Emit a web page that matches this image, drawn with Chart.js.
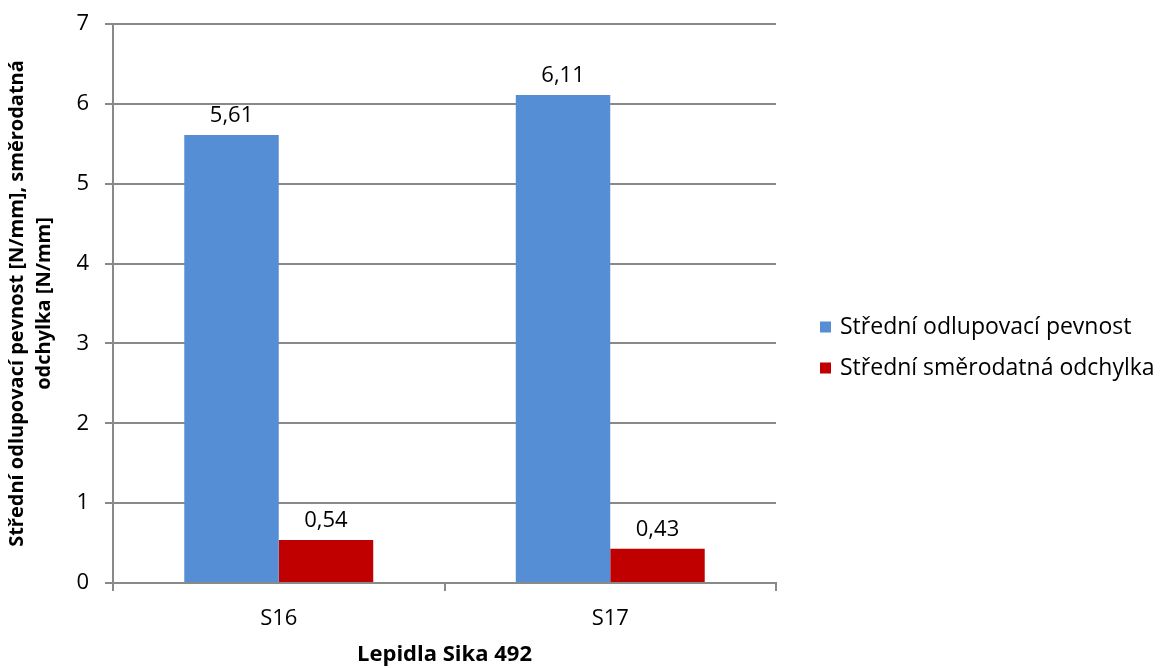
<!DOCTYPE html>
<html>
<head>
<meta charset="utf-8">
<script src="https://cdn.jsdelivr.net/npm/chart.js@4/dist/chart.umd.min.js"></script>
<style>
  html, body { margin: 0; padding: 0; background: #ffffff; }
  #wrap { width: 1162px; height: 668px; }
</style>
</head>
<body>
<div id="wrap"><canvas id="c" width="1162" height="668"></canvas></div>
<script>
// Adhesives tested and their peel strength results
const categories = ['S16', 'S17'];
const meanPeelStrength = [5.61, 6.11];
const meanStdDeviation = [0.54, 0.43];
const seriesNames = ['Střední odlupovací pevnost', 'Střední směrodatná odchylka'];
const yTitle = ['Střední odlupovací pevnost [N/mm], směrodatná', 'odchylka [N/mm]'];
const xTitle = 'Lepidla Sika 492';

const FONT = '"Open Sans", "Liberation Sans", sans-serif';
const SIZE = 22;
const GRID = '#898989';

// Writes each bar's value (decimal comma) just above it
const valueLabels = {
  id: 'valueLabels',
  afterDatasetsDraw(chart) {
    const ctx = chart.ctx;
    ctx.save();
    ctx.font = SIZE + 'px ' + FONT;
    ctx.fillStyle = '#000000';
    ctx.textAlign = 'center';
    ctx.textBaseline = 'alphabetic';
    chart.data.datasets.forEach((ds, di) => {
      chart.getDatasetMeta(di).data.forEach((bar, i) => {
        const txt = ds.data[i].toFixed(2).replace('.', ',');
        ctx.fillText(txt, bar.x, bar.y - 13);
      });
    });
    ctx.restore();
  }
};

// Two-line vertical value-axis title, centred on the plot height
const valueAxisTitle = {
  id: 'valueAxisTitle',
  afterDraw(chart) {
    const ctx = chart.ctx;
    const area = chart.chartArea;
    const midY = (area.top + area.bottom) / 2;
    ctx.save();
    ctx.font = 'bold 20px ' + FONT;
    ctx.fillStyle = '#000000';
    ctx.textAlign = 'center';
    ctx.textBaseline = 'middle';
    yTitle.forEach((line, i) => {
      ctx.save();
      ctx.translate(17 + i * 27, midY);
      ctx.rotate(-Math.PI / 2);
      ctx.fillText(line, 0, 0);
      ctx.restore();
    });
    ctx.restore();
  }
};

// Series key, stacked in the free space right of the plot
const sideLegend = {
  id: 'sideLegend',
  afterDraw(chart) {
    const ctx = chart.ctx;
    const area = chart.chartArea;
    const x0 = area.right + 44;
    const centreY = (area.top + area.bottom) / 2 + 44;
    const step = 41;
    const n = chart.data.datasets.length;
    ctx.save();
    ctx.font = '23px ' + FONT;
    ctx.textBaseline = 'middle';
    ctx.textAlign = 'left';
    chart.data.datasets.forEach((ds, i) => {
      const y = centreY + (i - (n - 1) / 2) * step;
      ctx.fillStyle = ds.backgroundColor;
      ctx.fillRect(x0, y - 5.5, 11, 11);
      ctx.fillStyle = '#000000';
      ctx.fillText(ds.label, x0 + 20, y);
    });
    ctx.restore();
  }
};

new Chart(document.getElementById('c'), {
  type: 'bar',
  data: {
    labels: categories,
    datasets: [
      { label: seriesNames[0], data: meanPeelStrength, backgroundColor: '#558ED5' },
      { label: seriesNames[1], data: meanStdDeviation, backgroundColor: '#C00000' }
    ]
  },
  options: {
    responsive: false,
    animation: false,
    devicePixelRatio: 1,
    layout: { padding: { top: 24, left: 0, right: 386, bottom: 0 } },
    datasets: { bar: { categoryPercentage: 0.57, barPercentage: 1.0 } },
    plugins: {
      tooltip: { enabled: false },
      legend: { display: false }
    },
    scales: {
      x: {
        grid: { offset: true, drawOnChartArea: false, drawTicks: true, tickLength: 8, color: GRID, lineWidth: 2 },
        border: { display: true, color: GRID, width: 2 },
        ticks: { font: { family: FONT, size: SIZE }, color: '#000000', padding: 15 },
        title: { display: true, text: xTitle, font: { family: FONT, size: SIZE, weight: 'bold' }, color: '#000000', padding: { top: 12, bottom: 0 } },
        afterFit(s) { s.height = 85; s.paddingLeft = 0; s.paddingRight = 0; }
      },
      y: {
        min: 0, max: 7,
        grid: { color: GRID, lineWidth: 2, drawTicks: true, tickLength: 8 },
        border: { display: true, color: GRID, width: 2 },
        ticks: { stepSize: 1, font: { family: FONT, size: SIZE }, color: '#000000', padding: 16 },
        title: { display: false },
        afterFit(s) { s.width = 113; s.paddingTop = 0; s.paddingBottom = 0; }
      }
    }
  },
  plugins: [valueLabels, valueAxisTitle, sideLegend]
});
</script>
</body>
</html>
